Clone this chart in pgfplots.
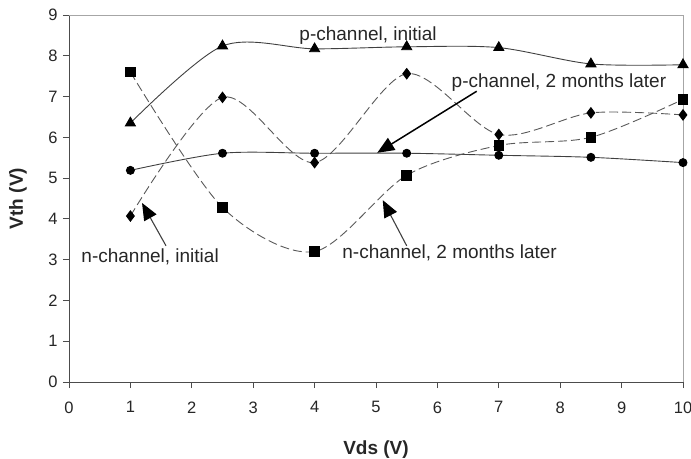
\documentclass[border=0pt]{standalone}
\usepackage{fontspec}
\setmainfont{Liberation Sans}
\usepackage{pgfplots}
\pgfplotsset{compat=1.18}
\usetikzlibrary{arrows.meta}
\begin{document}
\begin{tikzpicture}
\useasboundingbox (-69bp,-77bp) rectangle (622bp,382bp);
\begin{axis}[
  at={(0,0)}, anchor=south west,
  scale only axis, width=614bp, height=367bp,
  xmin=0, xmax=10, ymin=0, ymax=9,
  xtick={0,...,10}, ytick={0,...,9},
  axis x line=bottom, axis y line=left,
  axis line style={-, black!70, line width=0.8bp},
  tick align=outside, major tick length=6bp,
  tick style={black!70, line width=0.8bp},
  /pgf/number format/assume math mode=true,
  ticklabel style={font=\fontsize{16.5bp}{18bp}\selectfont, text=black!85},
  xticklabel style={yshift=-10bp},
  yticklabel style={xshift=-2bp},
  xlabel={\textbf{Vds (V)}}, ylabel={\textbf{Vth (V)}},
  label style={font=\fontsize{19bp}{21bp}\selectfont, text=black!85},
  xlabel style={at={(axis description cs:0.5,0)}, anchor=base, yshift=-72bp},
  ylabel style={at={(axis description cs:-0.075,0.5)}, anchor=base, rotate=0},
  clip=false,
]
\draw[black!35, line width=0.8bp] (rel axis cs:0,1) -- (rel axis cs:1,1) -- (rel axis cs:1,0);
% p-channel initial
\addplot[smooth, black!75, line width=0.9bp, mark=triangle*, mark size=5.8bp, mark options={solid, fill=black, draw=black}]
 coordinates {(1,6.35) (2.5,8.24) (4,8.17) (5.5,8.22) (7,8.2) (8.5,7.8) (10,7.78)};
% p-channel 2 months later
\addplot[smooth, black!65, line width=0.9bp, dash pattern=on 9bp off 4bp, mark=diamond*, mark size=5.2bp, mark options={solid, fill=black, draw=black}]
 coordinates {(1,4.07) (2.5,6.98) (4,5.38) (5.5,7.56) (7,6.07) (8.5,6.6) (10,6.55)};
% n-channel initial
\addplot[smooth, black!75, line width=0.9bp, mark=*, mark size=4bp, mark options={solid, fill=black, draw=black}]
 coordinates {(1,5.19) (2.5,5.61) (4,5.61) (5.5,5.61) (7,5.56) (8.5,5.51) (10,5.38)};
% n-channel 2 months later
\addplot[smooth, black!65, line width=0.9bp, dash pattern=on 9bp off 4bp, mark=square*, mark size=4.8bp, mark options={solid, fill=black, draw=black}]
 coordinates {(1,7.6) (2.5,4.28) (4,3.2) (5.5,5.07) (7,5.8) (8.5,6.0) (10,6.93)};
% annotations
\tikzset{lab/.style={anchor=base west, inner sep=0pt, font=\fontsize{19bp}{21bp}\selectfont, text=black!85}}
\node[lab] at (axis cs:3.75,8.37) {p-channel, initial};
\node[lab] at (axis cs:6.23,7.22) {p-channel, 2 months later};
\node[lab] at (axis cs:0.2,2.93) {n-channel, initial};
\node[lab] at (axis cs:4.45,3.02) {n-channel, 2 months later};
\draw[black!75, line width=1.1bp, -{Triangle[length=17bp,width=14bp,color=black]}] (axis cs:1.58,3.34) -- (axis cs:1.19,4.39);
\draw[black!75, line width=1.1bp, -{Triangle[length=17bp,width=14bp,color=black]}] (axis cs:5.5,3.34) -- (axis cs:5.11,4.46);
\draw[black, line width=1.5bp, -{Triangle[length=17bp,width=14bp]}] (axis cs:6.64,7.13) -- (axis cs:5.02,5.62);
\end{axis}
\end{tikzpicture}
\end{document}
